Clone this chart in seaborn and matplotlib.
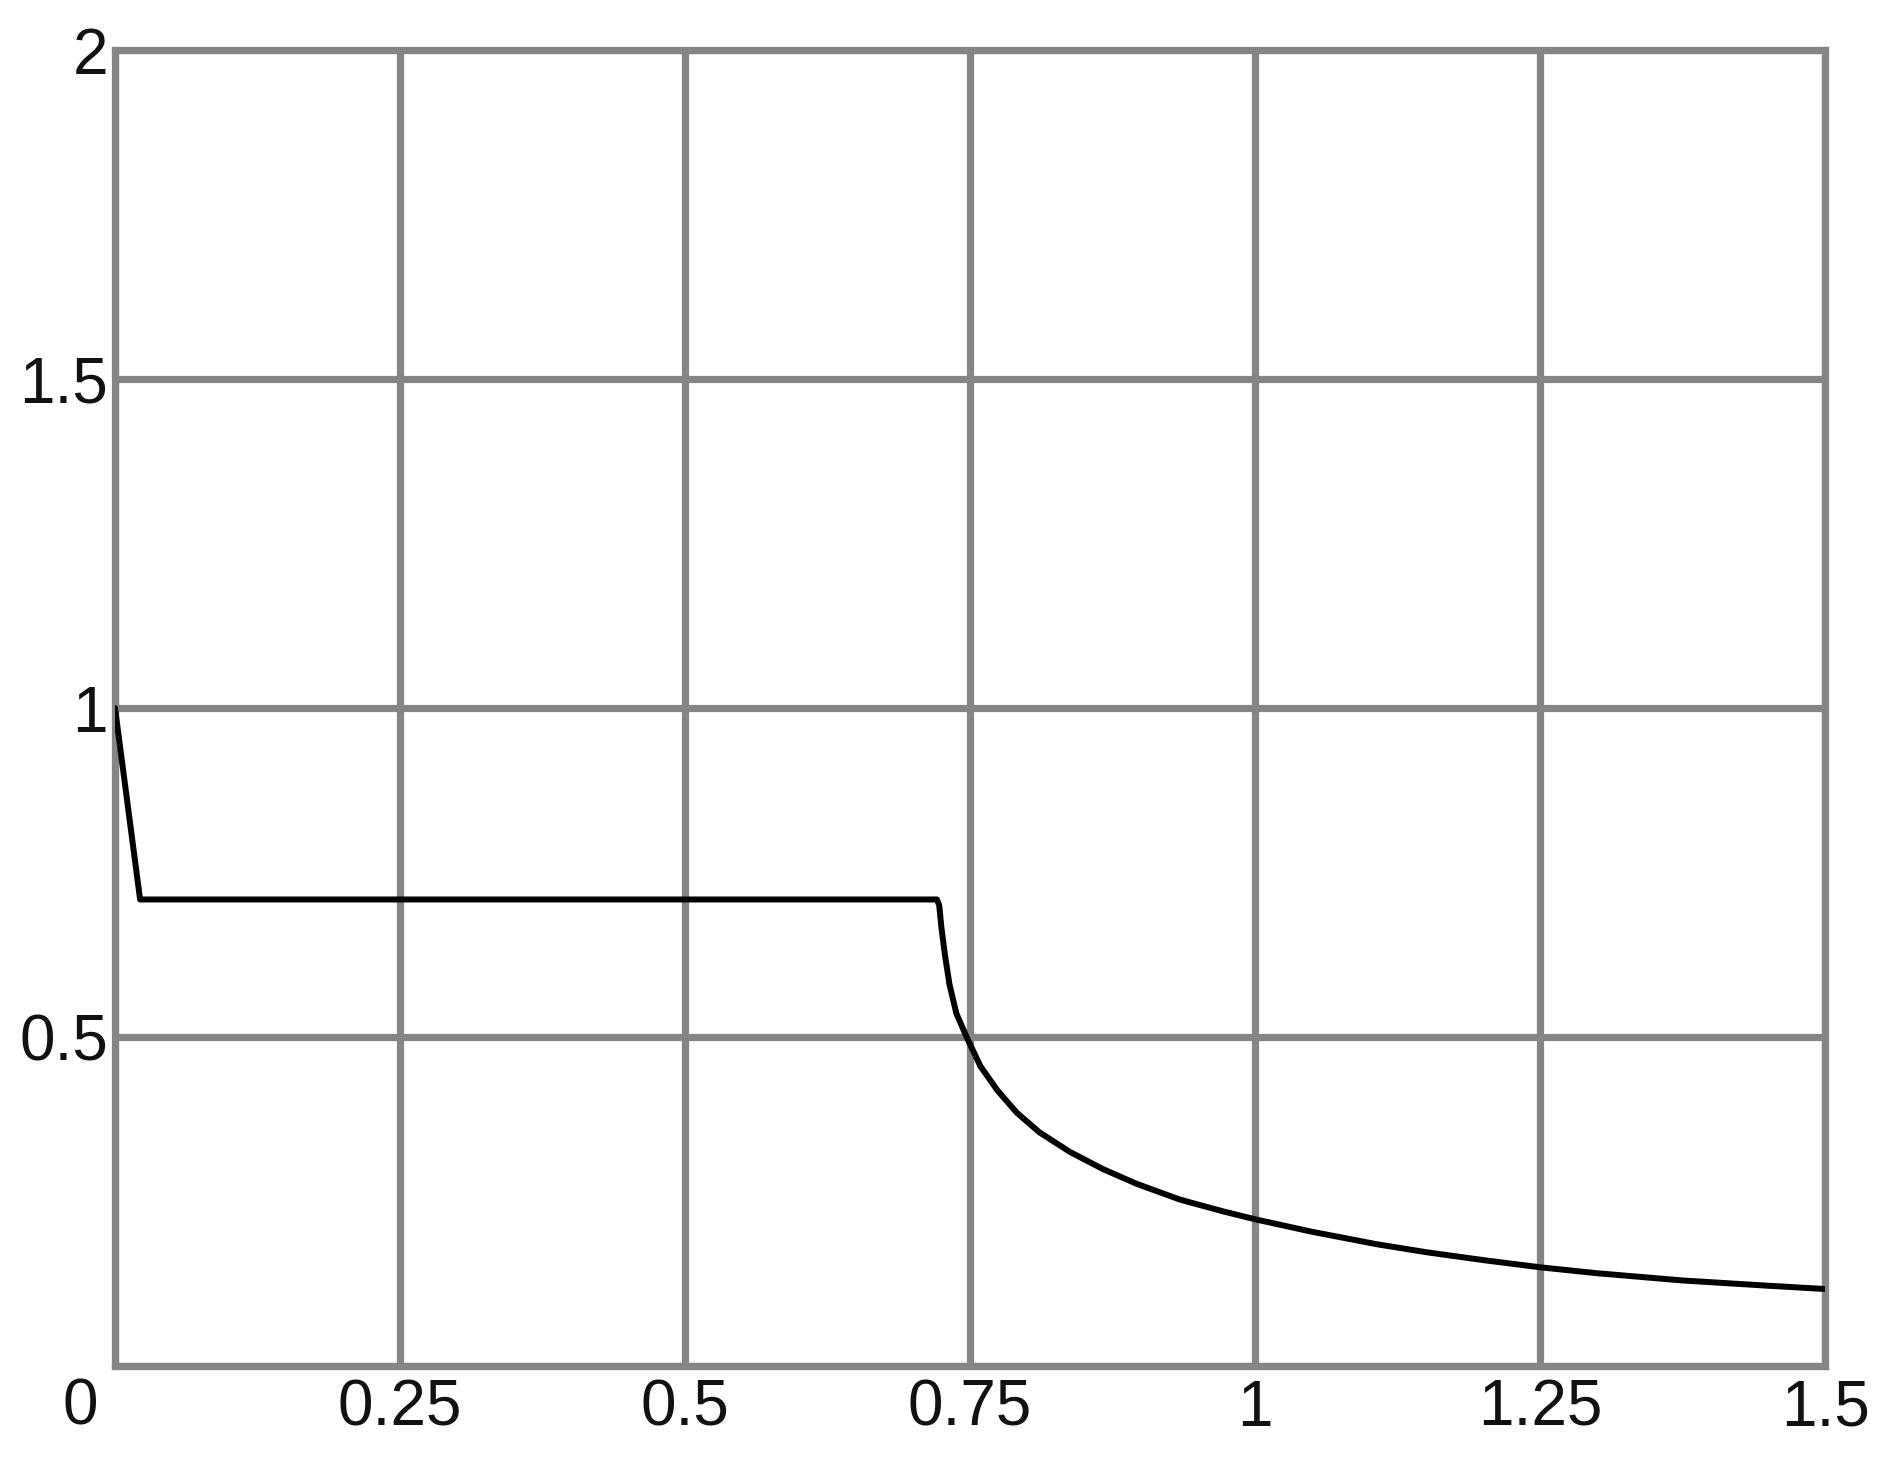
import matplotlib
matplotlib.use("Agg")
import matplotlib.pyplot as plt
import seaborn as sns
import pandas as pd

# Data
x_vals = [0.0, 0.022, 0.721, 0.723, 0.725, 0.728, 0.732, 0.738, 0.747, 0.759, 0.774,
          0.791, 0.811, 0.838, 0.867, 0.896, 0.934, 0.972, 1.0, 1.05, 1.107,
          1.15, 1.2, 1.25, 1.3, 1.375, 1.45, 1.5]
y_vals = [1.0, 0.709, 0.709, 0.700, 0.665, 0.625, 0.580, 0.536, 0.500, 0.456, 0.419,
          0.385, 0.355, 0.325, 0.299, 0.277, 0.253, 0.235, 0.223, 0.204, 0.185,
          0.173, 0.161, 0.150, 0.141, 0.130, 0.122, 0.117]
x_ticks = [0, 0.25, 0.5, 0.75, 1, 1.25, 1.5]
x_tick_labels = ["", "0.25", "0.5", "0.75", "1", "1.25", "1.5"]
y_ticks = [0, 0.5, 1, 1.5, 2]
y_tick_labels = ["", "0.5", "1", "1.5", "2"]
corner_label = "0"

sns.set_theme(style="white")
plt.rcParams['font.family'] = ['Liberation Sans', 'DejaVu Sans']

W, H, DPI = 1893, 1462, 100
fig = plt.figure(figsize=(W / DPI, H / DPI), dpi=DPI)
ax = fig.add_axes([115 / W, 1 - 1366 / H, (1825 - 115) / W, (1366 - 50) / H])

df = pd.DataFrame({"x": x_vals, "y": y_vals})
grid_color = "#858585"
sns.lineplot(data=df, x="x", y="y", ax=ax, color="black", linewidth=4.3,
             sort=False, estimator=None, zorder=5)
for ln in ax.lines:
    ln.set_solid_joinstyle("round")

ax.set_xlim(0, 1.5)
ax.set_ylim(0, 2)
ax.set_xticks(x_ticks)
ax.set_xticklabels(x_tick_labels)
ax.set_yticks(y_ticks)
ax.set_yticklabels(y_tick_labels)
ax.set_xlabel("")
ax.set_ylabel("")
ax.grid(True, color=grid_color, linewidth=5.2)
ax.set_axisbelow(True)
for s in ax.spines.values():
    s.set_visible(True)
    s.set_color(grid_color)
    s.set_linewidth(5.2)
ax.tick_params(axis="both", length=0, labelsize=46, colors="#111111")
ax.tick_params(axis="x", pad=9)
ax.tick_params(axis="y", pad=5)

ax.annotate(corner_label, xy=(0, 0), xycoords="data", xytext=(-12, -8),
            textcoords="offset points", ha="right", va="top",
            fontsize=46, color="#111111")

fig.savefig("out.png", dpi=DPI)
